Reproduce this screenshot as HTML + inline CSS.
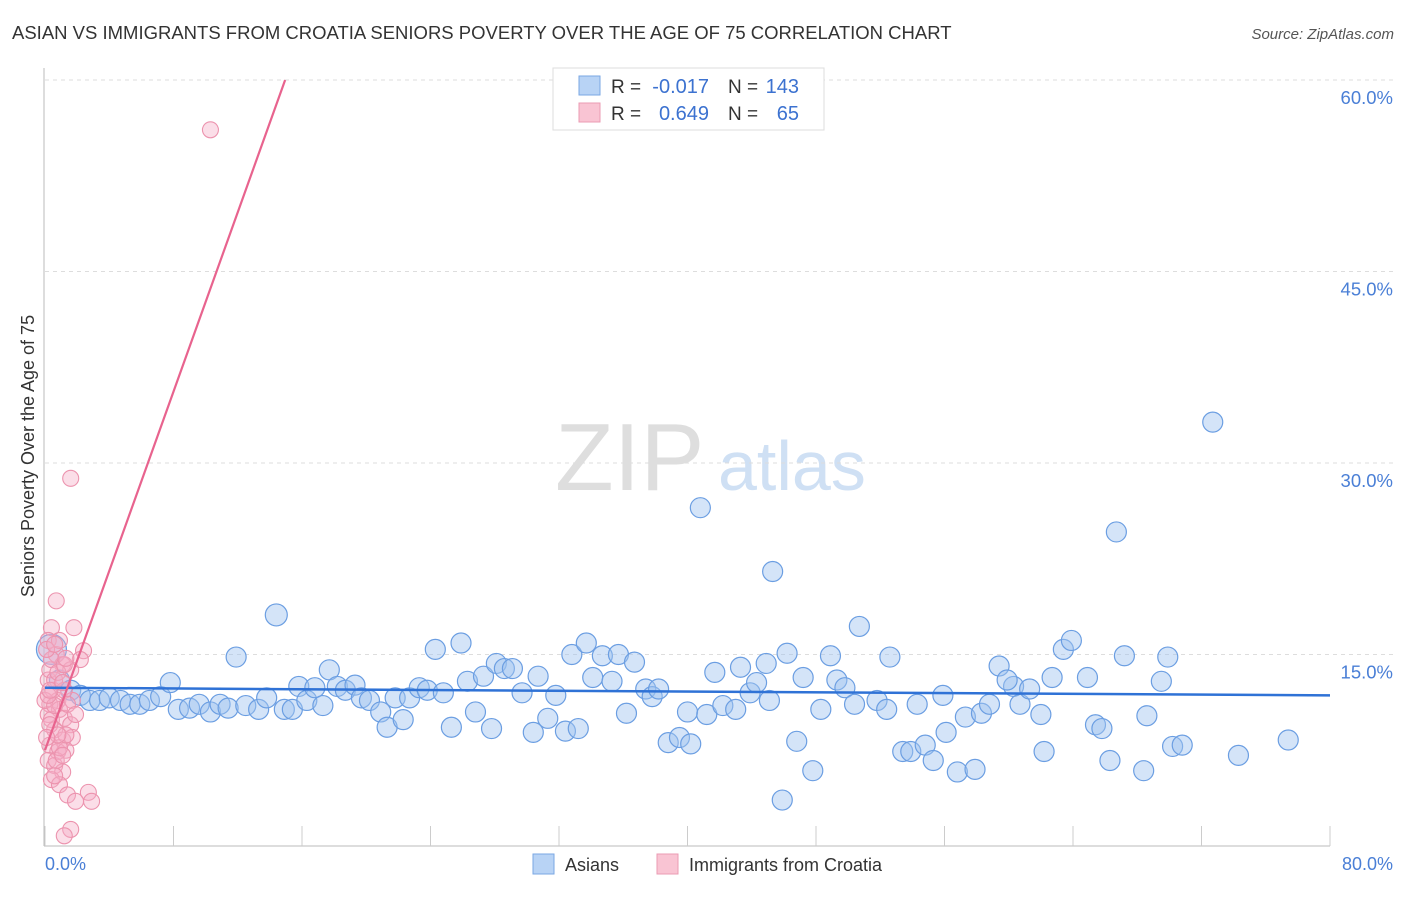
<!DOCTYPE html>
<html><head><meta charset="utf-8"><style>
body{margin:0;background:#fff;font-family:"Liberation Sans",sans-serif;}
svg text{font-family:"Liberation Sans",sans-serif;}
</style></head><body>
<svg id="chart" width="1406" height="892" xmlns="http://www.w3.org/2000/svg">
<text x="12" y="39" font-size="18.5" fill="#333">ASIAN VS IMMIGRANTS FROM CROATIA SENIORS POVERTY OVER THE AGE OF 75 CORRELATION CHART</text>
<text x="1394" y="39" font-size="15" fill="#555" text-anchor="end" font-style="italic">Source: ZipAtlas.com</text>
<g>
<text x="555" y="490" font-size="96" fill="#dedede" font-family="Liberation Serif,serif">ZIP</text>
<text x="718" y="490" font-size="70" fill="#cfe0f4">atlas</text>
</g>
<g id="grid"></g>
<line x1="44" y1="68" x2="44" y2="846" stroke="#bbb"/>
<line x1="44" y1="846" x2="1330" y2="846" stroke="#bbb"/>
<g id="xticks"></g>
<g id="pts"></g>
<g id="trend"></g>
<text transform="translate(34,456) rotate(-90)" font-size="18" fill="#333" text-anchor="middle">Seniors Poverty Over the Age of 75</text>
<text x="45" y="870" font-size="18" fill="#4a7fd6">0.0%</text>
<text x="1393" y="870" font-size="18" fill="#4a7fd6" text-anchor="end">80.0%</text>
<g>
<rect x="553" y="68" width="271" height="62" fill="#fff" stroke="#ddd"/>
<rect x="579" y="76" width="21" height="19" fill="#b8d3f5" stroke="#7aa7e3"/>
<rect x="579" y="103" width="21" height="19" fill="#f9c4d3" stroke="#eb9bb3"/>
<text x="611" y="93" font-size="19" fill="#333">R =</text>
<text x="709" y="93" font-size="20" fill="#3c72d0" text-anchor="end">-0.017</text>
<text x="728" y="93" font-size="19" fill="#333">N =</text>
<text x="799" y="93" font-size="20" fill="#3c72d0" text-anchor="end">143</text>
<text x="611" y="120" font-size="19" fill="#333">R =</text>
<text x="709" y="120" font-size="20" fill="#3c72d0" text-anchor="end">0.649</text>
<text x="728" y="120" font-size="19" fill="#333">N =</text>
<text x="799" y="120" font-size="20" fill="#3c72d0" text-anchor="end">65</text>
</g>
<g>
<rect x="533" y="854" width="21" height="20" fill="#b8d3f5" stroke="#7aa7e3"/>
<text x="565" y="871" font-size="18" fill="#333">Asians</text>
<rect x="657" y="854" width="21" height="20" fill="#f9c4d3" stroke="#eb9bb3"/>
<text x="689" y="871" font-size="18" fill="#333">Immigrants from Croatia</text>
</g>
</svg>
<script>
const yTicks=[15,30,45,60];
const yTickLabels=["15.0%","30.0%","45.0%","60.0%"];
const xTicks=[0,8,16,24,32,40,48,56,64,72,80];
const asianX=[0.4,0.9,1.6,2.2,2.8,3.4,4.0,4.7,5.3,5.9,6.5,7.2,7.8,8.3,9.0,9.6,10.3,10.9,11.4,11.9,12.5,13.3,13.8,14.4,14.9,15.4,15.8,16.3,16.8,17.3,17.7,18.2,18.7,19.3,19.7,20.2,20.9,21.3,21.8,22.3,22.7,23.3,23.8,24.3,24.8,25.3,25.9,26.3,26.8,27.3,27.8,28.1,28.6,29.1,29.7,30.4,30.7,31.3,31.8,32.4,32.8,33.2,33.7,34.1,34.7,35.3,35.7,36.2,36.7,37.4,37.8,38.2,38.8,39.5,40.0,40.2,40.8,41.2,41.7,42.2,43.0,43.3,43.9,44.3,44.9,45.3,46.2,46.8,47.2,47.8,48.3,48.9,49.3,49.8,50.4,50.7,51.8,52.4,52.6,53.4,53.9,54.3,54.8,55.3,55.9,56.1,56.8,57.3,57.9,58.3,58.8,59.4,60.3,60.7,61.3,62.0,62.2,62.7,63.4,63.9,64.9,65.4,65.8,66.3,66.7,67.2,68.4,68.6,69.5,69.9,70.2,70.8,72.7,74.3,77.4,45.9,59.9,45.1];
const asianY=[15.4,13.0,12.2,11.8,11.4,11.4,11.6,11.4,11.1,11.1,11.4,11.7,12.8,10.7,10.8,11.1,10.5,11.1,10.8,14.8,11.0,10.7,11.6,18.1,10.7,10.7,12.5,11.4,12.4,11.0,13.8,12.5,12.2,12.6,11.6,11.4,10.5,9.3,11.6,9.9,11.6,12.4,12.2,15.4,12.0,9.3,15.9,12.9,10.5,13.3,9.2,14.3,13.9,13.9,12.0,8.9,13.3,10.0,11.8,9.0,15.0,9.2,15.9,13.2,14.9,12.9,15.0,10.4,14.4,12.3,11.7,12.3,8.1,8.5,10.5,8.0,26.5,10.3,13.6,11.0,10.7,14.0,12.0,12.8,14.3,21.5,15.1,8.2,13.2,5.9,10.7,14.9,13.0,12.4,11.1,17.2,11.4,10.7,14.8,7.4,7.4,11.1,7.9,6.7,11.8,8.9,5.8,10.1,6.0,10.4,11.1,14.1,12.5,11.1,12.3,10.3,7.4,13.2,15.4,16.1,13.2,9.5,9.2,6.7,24.6,14.9,5.9,10.2,12.9,14.8,7.8,7.9,33.2,7.1,8.3,3.6,13.0,11.4];
const croX=[10.3,1.6,0.7,0.4,1.8,2.4,0.2,0.7,1.1,1.6,0.2,0.5,0.8,0.3,0.9,0.2,0.4,1.2,1.6,0.6,1.1,1.7,0.3,0.8,1.3,0.2,0.6,1.1,0.4,0.9,1.4,2.7,2.9,1.9,1.6,1.2,0.7,0.9,1.3,1.7,2.2,0.3,0.6,1.2,0,0.6,0.2,0.4,0.8,1.2,0.9,1.4,1.9,0.3,0.8,0.1,1.1,0.6,0.3,1.1,0.1,0.6,1.3];
const croY=[56.1,28.8,19.2,17.1,17.1,15.3,16.1,15.0,14.2,13.8,13.0,12.2,11.4,11.1,10.7,10.3,9.9,10.0,9.5,9.1,8.3,8.5,7.9,7.4,7.5,6.7,6.3,5.8,5.2,4.8,4.0,4.2,3.5,3.5,1.3,0.8,6.7,7.7,8.7,11.4,14.6,13.8,13.0,12.2,11.4,11.0,11.8,14.6,13.6,14.2,16.1,11.1,10.3,9.5,8.7,8.5,7.1,5.5,12.2,12.8,15.4,15.8,14.7];
const asianTrend=[[0,12.4],[80,11.8]];
const croTrend=[[0,7.5],[14.95,60]];
const NS="http://www.w3.org/2000/svg";
function sx(v){return 45+v*1285/80;}
function sy(v){return 846-v*766/60;}
function mk(tag,attrs,parent){const e=document.createElementNS(NS,tag);for(const k in attrs)e.setAttribute(k,attrs[k]);document.getElementById(parent).appendChild(e);return e;}
yTicks.forEach((t,i)=>{
 const l=mk('line',{x1:45,x2:1393,y1:sy(t),y2:sy(t),stroke:'#ddd','stroke-dasharray':'4,4'},'grid');
 
 
 const tx=mk('text',{x:1393,y:sy(t)+24,'font-size':18.5,fill:'#4a7fd6','text-anchor':'end'},'grid');
 tx.textContent=yTickLabels[i];
 
 
});
xTicks.forEach(t=>{
 const l=mk('line',{x1:sx(t),x2:sx(t),y1:826,y2:846,stroke:'#ccc'},'xticks');
 
 
});
asianX.forEach((x,i)=>{
 const r=(i===0)?15:(i===23?11:10);
 const c=mk('circle',{cx:sx(x),cy:sy(asianY[i]),r:r,fill:'rgba(160,196,240,0.45)',stroke:'#6b9ee2','stroke-width':1.2},'pts');
 
 
});
croX.forEach((x,i)=>{
 const c=mk('circle',{cx:sx(x),cy:sy(croY[i]),r:8,fill:'rgba(246,172,198,0.4)',stroke:'#ec93ae','stroke-width':1.1},'pts');
 
 
});
const bt=mk('line',{x1:sx(asianTrend[0][0]),y1:sy(asianTrend[0][1]),x2:sx(asianTrend[1][0]),y2:sy(asianTrend[1][1]),stroke:'#2f72d6','stroke-width':2.5},'trend');


const pt=mk('line',{x1:sx(croTrend[0][0]),y1:sy(croTrend[0][1]),x2:sx(croTrend[1][0]),y2:sy(croTrend[1][1]),stroke:'#e8638e','stroke-width':2.2},'trend');


</script>
</body></html>
